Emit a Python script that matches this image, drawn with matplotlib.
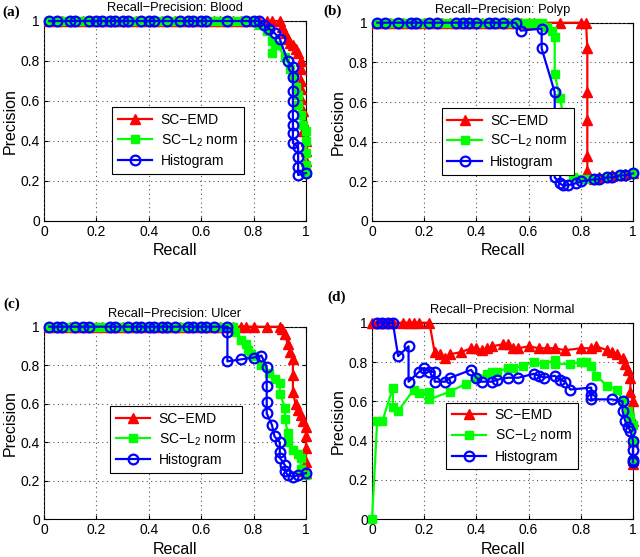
import matplotlib
matplotlib.use("Agg")
import matplotlib.pyplot as plt

plt.rcParams['font.family'] = ['Liberation Sans', 'DejaVu Sans']
plt.rcParams['mathtext.fontset'] = 'custom'
plt.rcParams['mathtext.rm'] = 'Liberation Sans'
plt.rcParams['mathtext.it'] = 'Liberation Sans:italic'

series_names = ['SC\u2212EMD', 'SC\u2212L$_{\\mathrm{2}}$ norm', 'Histogram']
titles = ['Recall\u2212Precision: Blood', 'Recall\u2212Precision: Polyp',
          'Recall\u2212Precision: Ulcer', 'Recall\u2212Precision: Normal']
panel_tags = ['(a)', '(b)', '(c)', '(d)']
ticks = [0, 0.2, 0.4, 0.6, 0.8, 1]
tick_labels = ['0', '0.2', '0.4', '0.6', '0.8', '1']

# ---- (a) Blood ----
blood_emd_r = [0.02, 0.05, 0.07, 0.1, 0.12, 0.15, 0.17, 0.2, 0.22, 0.25, 0.27, 0.3, 0.32, 0.35, 0.37,
               0.4, 0.42, 0.45, 0.47, 0.5, 0.52, 0.55, 0.57, 0.6, 0.62, 0.65, 0.67, 0.7, 0.72, 0.75,
               0.77, 0.8, 0.82, 0.85, 0.87, 0.9,
               0.91, 0.92, 0.93, 0.94, 0.95, 0.96, 0.97, 0.98, 0.98, 0.98, 0.98, 0.98, 0.99, 0.99, 0.99,
               1.0, 1.0, 1.0, 1.0]
blood_emd_p = [1.0] * 36 + [0.97, 0.94, 0.91, 0.89, 0.88, 0.86, 0.84, 0.8, 0.76, 0.7, 0.66, 0.61,
                            0.55, 0.5, 0.45, 0.4, 0.35, 0.3, 0.25]
blood_l2_r = [0.02, 0.05, 0.07, 0.1, 0.12, 0.15, 0.17, 0.2, 0.22, 0.25, 0.27, 0.3, 0.32, 0.35, 0.37,
              0.4, 0.42, 0.45, 0.47, 0.5, 0.52, 0.55, 0.57, 0.6, 0.62, 0.65, 0.67, 0.7, 0.72, 0.75,
              0.77, 0.8,
              0.82, 0.85, 0.87, 0.87, 0.89, 0.92, 0.94, 0.95, 0.96, 0.97, 0.97, 0.98, 0.99, 1.0, 1.0,
              1.0, 1.0, 1.0]
blood_l2_p = [1.0] * 32 + [0.98, 0.95, 0.9, 0.84, 0.88, 0.82, 0.76, 0.72, 0.67, 0.63, 0.58, 0.53,
                           0.48, 0.45, 0.4, 0.34, 0.28, 0.24]
blood_hist_r = [0.02, 0.05, 0.1, 0.12, 0.17, 0.2, 0.22, 0.25, 0.27, 0.3, 0.32, 0.37, 0.4, 0.42, 0.47,
                0.52, 0.55, 0.57, 0.6, 0.62, 0.7, 0.77, 0.8, 0.82,
                0.84, 0.86, 0.88, 0.9, 0.93, 0.95, 0.95, 0.95, 0.95, 0.95, 0.95, 0.95, 0.95, 0.97,
                0.97, 0.97, 0.97, 1.0]
blood_hist_p = [1.0] * 24 + [0.98, 0.96, 0.94, 0.91, 0.8, 0.77, 0.72, 0.65, 0.6, 0.53, 0.48, 0.44,
                             0.39, 0.37, 0.32, 0.27, 0.23, 0.24]

# ---- (b) Polyp ----
polyp_emd_r = [0.02, 0.05, 0.07, 0.1, 0.12, 0.15, 0.17, 0.2, 0.22, 0.25, 0.27, 0.3, 0.32, 0.35, 0.37,
               0.4, 0.42, 0.45, 0.47, 0.5, 0.52, 0.55, 0.57, 0.6, 0.62, 0.72, 0.8, 0.82,
               0.825, 0.825, 0.825, 0.825, 0.825, 0.83, 0.85, 0.87, 0.9, 0.92, 0.95, 0.97, 1.0]
polyp_emd_p = [1.0] * 28 + [0.87, 0.65, 0.51, 0.33, 0.25, 0.22, 0.21, 0.22, 0.22, 0.23, 0.23, 0.235, 0.24]
polyp_l2_r = [0.02, 0.05, 0.07, 0.1, 0.12, 0.15, 0.17, 0.2, 0.22, 0.25, 0.27, 0.3, 0.32, 0.35, 0.37,
              0.4, 0.42, 0.45, 0.47, 0.5, 0.52, 0.55, 0.57, 0.6, 0.62, 0.65,
              0.67, 0.69, 0.7, 0.7, 0.72, 0.73, 0.75, 0.75, 0.75, 0.75, 0.77, 0.8, 0.83, 0.85, 0.9,
              0.95, 1.0]
polyp_l2_p = [1.0] * 26 + [0.98, 0.96, 0.93, 0.74, 0.62, 0.55, 0.47, 0.4, 0.33, 0.25, 0.22, 0.21,
                           0.21, 0.21, 0.22, 0.23, 0.24]
polyp_hist_r = [0.02, 0.05, 0.1, 0.15, 0.17, 0.22, 0.25, 0.32, 0.35, 0.37, 0.4, 0.45, 0.47, 0.5, 0.55,
                0.57, 0.65, 0.65, 0.7, 0.7, 0.72, 0.73, 0.75, 0.78, 0.8, 0.85, 0.87, 0.9, 0.92, 0.95,
                0.97, 1.0]
polyp_hist_p = [1.0] * 15 + [0.96, 0.97, 0.87, 0.65, 0.22, 0.19, 0.18, 0.18, 0.19, 0.2, 0.21, 0.21,
                             0.22, 0.22, 0.23, 0.23, 0.24]

# ---- (c) Ulcer ----
ulcer_emd_r = [0.02, 0.05, 0.07, 0.1, 0.12, 0.15, 0.17, 0.2, 0.22, 0.25, 0.27, 0.3, 0.32, 0.35, 0.37,
               0.4, 0.42, 0.45, 0.47, 0.5, 0.52, 0.55, 0.57, 0.6, 0.62, 0.65, 0.67, 0.7, 0.72, 0.75,
               0.77, 0.8, 0.85, 0.9,
               0.91, 0.92, 0.93, 0.94, 0.95, 0.95, 0.95, 0.96, 0.97, 0.98, 0.99, 1.0, 1.0, 1.0, 1.0,
               0.99, 1.0]
ulcer_emd_p = [1.0] * 34 + [0.99, 0.96, 0.91, 0.87, 0.83, 0.75, 0.66, 0.6, 0.57, 0.54, 0.51, 0.48,
                            0.43, 0.37, 0.3, 0.25, 0.24]
ulcer_l2_r = [0.02, 0.05, 0.07, 0.1, 0.12, 0.15, 0.17, 0.2, 0.22, 0.25, 0.27, 0.3, 0.32, 0.35, 0.37,
              0.4, 0.42, 0.45, 0.47, 0.5, 0.52, 0.55, 0.57, 0.6, 0.62, 0.65, 0.67, 0.7, 0.72,
              0.73, 0.75, 0.77, 0.78, 0.79, 0.8, 0.83, 0.86, 0.88, 0.9, 0.9, 0.92, 0.92, 0.93, 0.93,
              0.95, 0.97, 0.98, 0.98, 1.0]
ulcer_l2_p = [1.0] * 29 + [0.97, 0.93, 0.91, 0.88, 0.86, 0.85, 0.8, 0.76, 0.73, 0.71, 0.65, 0.58,
                           0.52, 0.45, 0.4, 0.36, 0.34, 0.32, 0.26, 0.23]
ulcer_hist_r = [0.02, 0.05, 0.07, 0.12, 0.15, 0.17, 0.25, 0.27, 0.32, 0.35, 0.37, 0.4, 0.42, 0.45,
                0.47, 0.5, 0.55, 0.57, 0.6, 0.62, 0.65, 0.7,
                0.7, 0.7, 0.75, 0.8, 0.83, 0.85, 0.85, 0.85, 0.85, 0.87, 0.88, 0.9, 0.9, 0.9, 0.92,
                0.92, 0.93, 0.95, 0.97, 1.0]
ulcer_hist_p = [1.0] * 22 + [0.97, 0.82, 0.83, 0.84, 0.85, 0.79, 0.69, 0.61, 0.55, 0.49, 0.43, 0.4,
                             0.35, 0.32, 0.28, 0.25, 0.23, 0.22, 0.23, 0.24]

# ---- (d) Normal ----
normal_emd_r = [0.0, 0.02, 0.04, 0.06, 0.08, 0.12, 0.14, 0.16, 0.18, 0.22, 0.24, 0.26, 0.28, 0.3,
                0.34, 0.38, 0.4, 0.42, 0.44, 0.46, 0.5, 0.52, 0.54, 0.56, 0.6, 0.64, 0.67, 0.7, 0.74,
                0.8, 0.84, 0.86, 0.9, 0.92, 0.94, 0.96, 0.97, 0.98, 0.99, 0.99, 1.0, 1.0, 1.0, 1.0, 1.0]
normal_emd_p = [1.0, 1.0, 1.0, 1.0, 1.0, 1.0, 1.0, 1.0, 1.0, 1.0, 0.85, 0.84, 0.82, 0.84, 0.85,
                0.87, 0.87, 0.86, 0.87, 0.88, 0.89, 0.89, 0.87, 0.87, 0.88, 0.87, 0.87, 0.87, 0.86,
                0.87, 0.87, 0.88, 0.86, 0.85, 0.84, 0.82, 0.79, 0.76, 0.72, 0.65, 0.6, 0.5, 0.4, 0.3,
                0.28]
normal_l2_r = [0.0, 0.02, 0.04, 0.08, 0.08, 0.1, 0.16, 0.18, 0.22, 0.22, 0.3, 0.36, 0.4, 0.44, 0.46,
               0.48, 0.52, 0.54, 0.58, 0.62, 0.66, 0.7, 0.7, 0.76, 0.8, 0.82, 0.84, 0.86, 0.9, 0.94,
               0.96, 0.98, 0.99, 1.0, 1.0, 1.0]
normal_l2_p = [0.0, 0.5, 0.5, 0.67, 0.57, 0.55, 0.66, 0.64, 0.65, 0.61, 0.65, 0.69, 0.72, 0.74,
               0.75, 0.75, 0.77, 0.77, 0.78, 0.8, 0.79, 0.81, 0.79, 0.79, 0.8, 0.8, 0.78, 0.73, 0.68,
               0.66, 0.6, 0.55, 0.52, 0.48, 0.4, 0.3]
normal_hist_r = [0.02, 0.04, 0.06, 0.08, 0.1, 0.14, 0.14, 0.18, 0.2, 0.22, 0.24, 0.24, 0.28, 0.3,
                 0.38, 0.4, 0.42, 0.46, 0.48, 0.52, 0.56, 0.62, 0.64, 0.66, 0.7, 0.72, 0.74, 0.76,
                 0.84, 0.84, 0.84, 0.92, 0.96, 0.96, 0.97, 0.98, 0.99, 1.0, 1.0, 1.0, 1.0]
normal_hist_p = [1.0, 1.0, 1.0, 1.0, 0.83, 0.88, 0.7, 0.75, 0.77, 0.75, 0.75, 0.7, 0.7, 0.72, 0.76,
                 0.72, 0.7, 0.7, 0.71, 0.72, 0.72, 0.74, 0.73, 0.72, 0.73, 0.71, 0.7, 0.66, 0.67,
                 0.63, 0.61, 0.61, 0.6, 0.55, 0.5, 0.47, 0.45, 0.4, 0.35, 0.3, 0.29]

panels = [
    [(blood_emd_r, blood_emd_p), (blood_l2_r, blood_l2_p), (blood_hist_r, blood_hist_p)],
    [(polyp_emd_r, polyp_emd_p), (polyp_l2_r, polyp_l2_p), (polyp_hist_r, polyp_hist_p)],
    [(ulcer_emd_r, ulcer_emd_p), (ulcer_l2_r, ulcer_l2_p), (ulcer_hist_r, ulcer_hist_p)],
    [(normal_emd_r, normal_emd_p), (normal_l2_r, normal_l2_p), (normal_hist_r, normal_hist_p)],
]

styles = [
    dict(color=(1, 0, 0), marker='^', markersize=7.5, markerfacecolor=(1, 0, 0), markeredgecolor=(1, 0, 0)),
    dict(color=(0, 1, 0), marker='s', markersize=6, markerfacecolor=(0, 1, 0), markeredgecolor=(0, 1, 0)),
    dict(color=(0, 0, 1), marker='o', markersize=7, markerfacecolor='none', markeredgecolor=(0, 0, 1),
         markeredgewidth=1.6),
]

fig_w, fig_h = 640, 557
# axes rects in pixels: left, top, right, bottom
rects_px = [(44, 21, 306, 221), (372, 22.7, 633, 221), (44, 326.7, 306, 519.3), (372, 322.7, 633, 519.3)]
legend_anchor = [(0.26, 0.57), (0.267, 0.57), (0.252, 0.588), (0.284, 0.593)]
tag_pos_px = [(2, 16), (323, 15), (3, 308), (327, 301)]

fig = plt.figure(figsize=(6.4, 5.57), dpi=100)
for i in range(4):
    l, t, r, b = rects_px[i]
    ax = fig.add_axes([l / fig_w, 1 - b / fig_h, (r - l) / fig_w, (b - t) / fig_h])
    for (xs, ys), st, name in zip(panels[i], styles, series_names):
        ax.plot(xs, ys, linewidth=1.6, clip_on=False, label=name, **st)
    ax.set_xlim(0, 1)
    ax.set_ylim(0, 1)
    ax.set_xticks(ticks)
    ax.set_yticks(ticks)
    ax.set_xticklabels(tick_labels)
    ax.set_yticklabels(tick_labels)
    ax.tick_params(direction='in', length=3, labelsize=10, top=True, right=True, pad=3)
    ax.grid(True, linestyle=(0, (1, 3)), color='#555555', linewidth=0.8)
    for sp in ax.spines.values():
        sp.set_linewidth(0.8)
        sp.set_zorder(0.5)
    ax.set_xlabel('Recall', fontsize=11.5, labelpad=3)
    ax.set_ylabel('Precision', fontsize=11.5, labelpad=2)
    ax.set_title(titles[i], fontsize=9.3, pad=7)
    leg = ax.legend(loc='upper left', bbox_to_anchor=legend_anchor[i], fontsize=10, frameon=True,
                    fancybox=False, edgecolor='black', framealpha=1, handlelength=2.5,
                    borderpad=0.4, labelspacing=0.4, handletextpad=0.6, borderaxespad=0)
    leg.get_frame().set_linewidth(0.8)
    tx, ty = tag_pos_px[i]
    fig.text(tx / fig_w, 1 - ty / fig_h, panel_tags[i], fontsize=11, fontweight='bold',
             family='Liberation Serif')

fig.savefig('out.png', dpi=100)
